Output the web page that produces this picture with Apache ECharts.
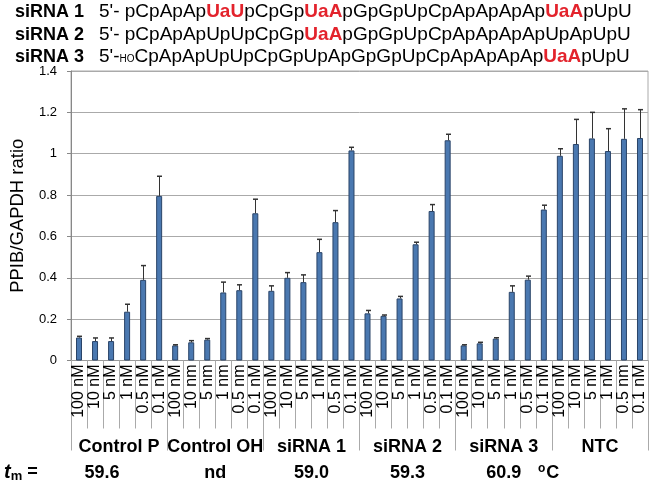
<!DOCTYPE html>
<html>
<head>
<meta charset="utf-8">
<script src="https://cdn.jsdelivr.net/npm/echarts@6/dist/echarts.min.js"></script>
<style>
html,body{margin:0;padding:0;background:#fff;}
#chart{width:649px;height:483px;}
</style>
</head>
<body>
<div id="chart"></div>
<script>
// ---- data ----
const groups = ['Control P', 'Control OH', 'siRNA 1', 'siRNA 2', 'siRNA 3', 'NTC'];
const tmValues = ['59.6', 'nd', '59.0', '59.3', '60.9', ''];
const concControlP  = ['100 nM', '10 nM', '5 nM', '1 nM', '0.5 nM', '0.1 nM'];
const concControlOH = ['100 nM', '10 nm', '5 nm', '1 nm', '0.5 nm', '0.1 nM'];
const concSiRNA1    = ['100 nM', '10 nM', '5 nM', '1 nM', '0.5 nM', '0.1 nM'];
const concSiRNA2    = ['100 nM', '10 nM', '5 nM', '1 nM', '0.5 nM', '0.1 nM'];
const concSiRNA3    = ['100 nM', '10 nM', '5 nM', '1 nM', '0.5 nM', '0.1 nM'];
const concNTC       = ['100 nM', '10 nM', '5 nM', '1 nM', '0.5 nm', '0.1 nM'];

const valControlP  = [0.111, 0.094, 0.094, 0.236, 0.390, 0.796];
const valControlOH = [0.073, 0.088, 0.101, 0.329, 0.340, 0.712];
const valSiRNA1    = [0.337, 0.400, 0.379, 0.524, 0.669, 1.016];
const valSiRNA2    = [0.228, 0.216, 0.300, 0.562, 0.723, 1.065];
const valSiRNA3    = [0.073, 0.083, 0.106, 0.332, 0.391, 0.730];
const valNTC       = [0.990, 1.047, 1.074, 1.013, 1.072, 1.076];

const errControlP  = [0.006, 0.015, 0.015, 0.036, 0.069, 0.095];
const errControlOH = [0.003, 0.008, 0.005, 0.050, 0.026, 0.068];
const errSiRNA1    = [0.024, 0.025, 0.035, 0.062, 0.056, 0.015];
const errSiRNA2    = [0.014, 0.004, 0.010, 0.010, 0.031, 0.029];
const errSiRNA3    = [0.003, 0.005, 0.004, 0.029, 0.017, 0.021];
const errNTC       = [0.034, 0.119, 0.126, 0.108, 0.145, 0.137];

const yTicks = { min: 0, max: 1.4, interval: 0.2 };

// header sequences: [text, style] pieces
const seq1 = [['5\'- pCpApAp','n'],['UaU','r'],['pCpGp','n'],['UaA','r'],['pGpGpUpCpApApApAp','n'],['UaA','r'],['pUpU','n']];
const seq2 = [['5\'- pCpApApUpUpCpGp','n'],['UaA','r'],['pGpGpUpCpApApApApUpApUpU','n']];
const seq3 = [['5\'-','n'],['HO','s'],['CpApApUpUpCpGpUpApGpGpUpCpApApApAp','n'],['UaA','r'],['pUpU','n']];

// ---- build ----
const categories = [].concat(concControlP, concControlOH, concSiRNA1, concSiRNA2, concSiRNA3, concNTC);
const values = [].concat(valControlP, valControlOH, valSiRNA1, valSiRNA2, valSiRNA3, valNTC);
const errors = [].concat(errControlP, errControlOH, errSiRNA1, errSiRNA2, errSiRNA3, errNTC);
const errData = values.map((v, i) => [i, v, errors[i]]);

const FONT = "'Liberation Sans', Arial, sans-serif";
const richSeq = {
  n: { fontFamily: FONT, fontSize: 19, fill: '#000' },
  r: { fontFamily: FONT, fontSize: 19, fontWeight: 'bold', fill: '#e3232c' },
  s: { fontFamily: FONT, fontSize: 10, fill: '#000', padding: [6, 0, 0, 0] }
};
function seqText(pieces) { return pieces.map(p => '{' + p[1] + '|' + p[0] + '}').join(''); }

const headerY = [13, 36, 58];
const headerLabels = ['siRNA 1', 'siRNA 2', 'siRNA 3'];
const headerSeqs = [seq1, seq2, seq3];
const graphics = [];
headerLabels.forEach((lab, i) => {
  graphics.push({ type: 'text', left: 15, top: headerY[i] - 10,
    style: { text: lab, font: 'bold 18px ' + FONT, fill: '#000' } });
  graphics.push({ type: 'text', left: 99, top: headerY[i] - 11,
    style: { text: seqText(headerSeqs[i]), rich: richSeq, fill: '#000' } });
});
graphics.push({ type: 'text', left: 4, top: 462,
  style: { text: '{t|t}{m|m}{e| =}', rich: {
    t: { fontFamily: FONT, fontSize: 20, fontWeight: 'bold', fontStyle: 'italic', fill: '#000' },
    m: { fontFamily: FONT, fontSize: 13, fontWeight: 'bold', fill: '#000', padding: [8, 0, 0, 0] },
    e: { fontFamily: FONT, fontSize: 18, fontWeight: 'bold', fill: '#000' }
  } } });
graphics.push({ type: 'text', left: 538, top: 463,
  style: { text: '{o|o}{c|C}', rich: {
    o: { fontFamily: FONT, fontSize: 12, fontWeight: 'bold', fill: '#000', padding: [0, 1, 8, 0] },
    c: { fontFamily: FONT, fontSize: 18, fontWeight: 'bold', fill: '#000' }
  } } });

const chart = echarts.init(document.getElementById('chart'), null, { renderer: 'canvas' });
chart.setOption({
  animation: false,
  backgroundColor: '#fff',
  grid: { left: 50, right: 1, top: 71, bottom: 122.5, show: true, borderColor: '#aaa', borderWidth: 1 },
  graphic: graphics,
  xAxis: [
    { type: 'category', data: categories, position: 'bottom',
      axisLine: { show: true, lineStyle: { color: '#999' } },
      axisTick: { show: true, length: 68, lineStyle: { color: '#aaa' } },
      axisLabel: { interval: 0, rotate: 90, fontSize: 16, margin: 4, color: '#000', fontFamily: FONT } },
    { type: 'category', data: groups, position: 'bottom',
      axisLine: { show: false },
      axisTick: { show: true, length: 90, lineStyle: { color: '#aaa' } },
      axisLabel: { interval: 0, fontSize: 18, fontWeight: 'bold', margin: 78, color: '#000', fontFamily: FONT } },
    { type: 'category', data: tmValues, position: 'bottom',
      axisLine: { show: false }, axisTick: { show: false },
      axisLabel: { interval: 0, fontSize: 18, fontWeight: 'bold', margin: 104, color: '#000', fontFamily: FONT,
        formatter: function (val, idx) { return idx === 0 ? '{a|' + val + '}' : val; },
        rich: { a: { fontSize: 18, fontWeight: 'bold', color: '#000', fontFamily: FONT, padding: [0, 34, 0, 0] } } } }
  ],
  yAxis: {
    type: 'value', min: yTicks.min, max: yTicks.max, interval: yTicks.interval,
    name: 'PPIB/GAPDH ratio', nameLocation: 'middle', nameGap: 44,
    nameTextStyle: { fontSize: 18.5, color: '#000', fontFamily: FONT },
    axisLine: { show: true, lineStyle: { color: '#888' } },
    axisTick: { show: true, length: 4, lineStyle: { color: '#888' } },
    axisLabel: { fontSize: 13, margin: 14, color: '#000', fontFamily: FONT },
    splitLine: { lineStyle: { color: '#aaa', width: 1 } }
  },
  series: [
    { type: 'bar', xAxisIndex: 0, data: values, barWidth: 6,
      itemStyle: { color: '#4a78b0', borderColor: '#2a4468', borderWidth: 1 } },
    { type: 'custom', xAxisIndex: 0, data: errData, z: 5,
      renderItem: function (params, api) {
        const x = api.value(0), v = api.value(1), e = api.value(2);
        const p0 = api.coord([x, v]);
        const p1 = api.coord([x, v + e]);
        const cx = Math.round(p0[0]) + 0.5;
        return { type: 'group', children: [
          { type: 'line', shape: { x1: cx, y1: p0[1], x2: cx, y2: p1[1] }, style: { stroke: '#333', lineWidth: 1 } },
          { type: 'line', shape: { x1: cx - 2.5, y1: p1[1], x2: cx + 2.5, y2: p1[1] }, style: { stroke: '#333', lineWidth: 1.5 } }
        ] };
      } }
  ]
});
</script>
</body>
</html>
